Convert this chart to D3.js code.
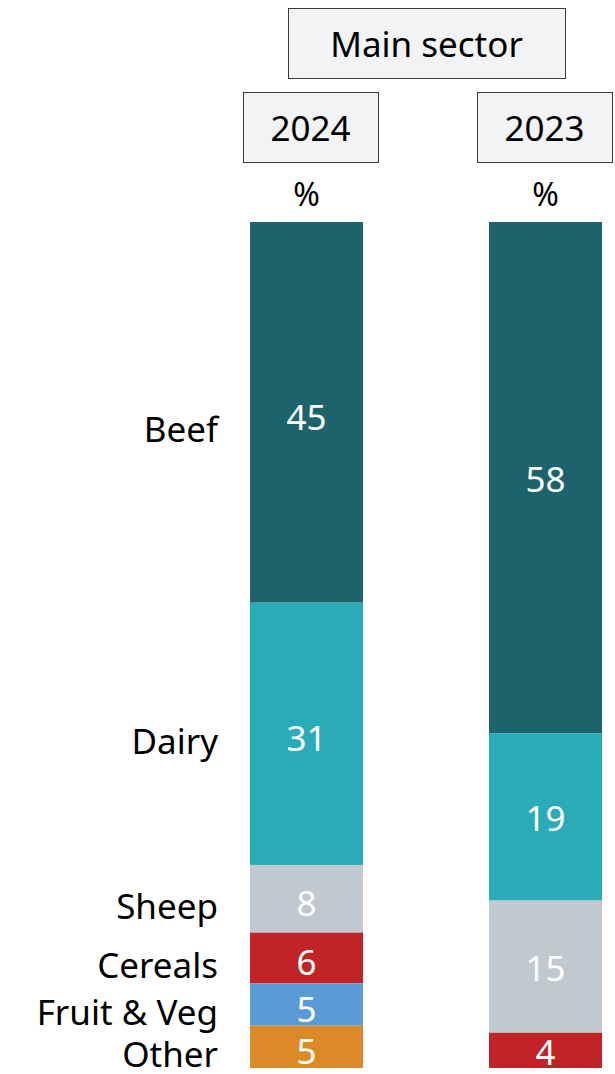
<!DOCTYPE html>
<html><head><meta charset="utf-8">
<script src="https://cdn.jsdelivr.net/npm/d3@7"></script>
<style>body{margin:0;background:#fff;} svg{display:block;}</style>
</head><body>
<div id="chart"></div>
<script>
const categories = ["Beef","Dairy","Sheep","Cereals","Fruit & Veg","Other"];
const years = ["2024","2023"];
const values2024 = [45,31,8,6,5,5];
const values2023 = [58,19,15,4,0,0];
const colors = ["#1d636b","#2aabb8","#bfc9cf","#c02427","#5b9bd5","#dc8a28"];
const title = "Main sector";
const unit = "%";

const W = 615, H = 1074;
const font = "'Noto Sans', 'Open Sans', sans-serif";
const svg = d3.select("#chart").append("svg").attr("width", W).attr("height", H);

const x = d3.scaleBand().domain(years).range([250, 602]).paddingInner(0.5272).paddingOuter(0);
const barTop = 222, barBottom = 1068;
const series = {"2024": values2024, "2023": values2023};

function box(x0, y0, w, h, text) {
  svg.append("rect").attr("x", x0+0.5).attr("y", y0+0.5).attr("width", w).attr("height", h)
    .attr("fill", "#f2f3f5").attr("stroke", "#3c3c3c").attr("stroke-width", 1);
  svg.append("text").attr("x", x0 + w/2).attr("y", y0 + h/2 + 2).attr("dy", "0.35em")
    .attr("text-anchor", "middle").attr("font-family", font).attr("font-size", 35)
    .attr("fill", "#000").text(text);
}
box(288, 8, 277, 70, title);
box(243, 92, 135, 70, years[0]);
box(477, 92, 135, 70, years[1]);

years.forEach(yr => {
  const vals = series[yr];
  const total = d3.sum(vals);
  const y = d3.scaleLinear().domain([0, total]).range([barTop, barBottom]);
  let cum = 0;
  const cx = x(yr) + x.bandwidth()/2;
  svg.append("text").attr("x", cx).attr("y", 195).attr("dy", "0.35em")
    .attr("text-anchor", "middle").attr("font-family", font).attr("font-size", 32).text(unit);
  vals.forEach((v, i) => {
    if (!v) return;
    const y0 = y(cum), y1 = y(cum + v);
    cum += v;
    svg.append("rect").attr("x", x(yr)).attr("width", x.bandwidth())
      .attr("y", y0).attr("height", y1 - y0).attr("fill", colors[i]);
    svg.append("text").attr("x", cx).attr("y", (y0 + y1)/2 + (yr === "2024" ? 5 : 2)).attr("dy", "0.35em")
      .attr("text-anchor", "middle").attr("font-family", font).attr("font-size", 35)
      .attr("fill", "#fff").text(v);
    if (yr === "2024") {
      svg.append("text").attr("x", 218).attr("y", (y0 + y1)/2 + (i === 0 ? 17 : 8)).attr("dy", "0.35em")
        .attr("text-anchor", "end").attr("font-family", font).attr("font-size", 35)
        .attr("fill", "#000").text(categories[i]);
    }
  });
});
</script>
</body></html>
